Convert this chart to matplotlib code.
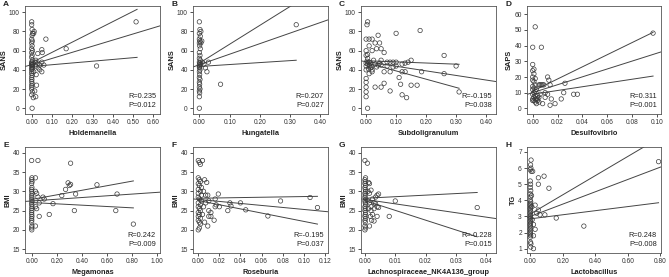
import matplotlib
matplotlib.use("Agg")
import matplotlib.pyplot as plt
import numpy as np

plt.rcParams['font.family'] = ['Liberation Sans', 'DejaVu Sans']

# ---- data ----
labels = ['A', 'B', 'C', 'D', 'E', 'F', 'G', 'H']
x_names = ['Holdemanella', 'Hungatella', 'Subdoligranulum', 'Desulfovibrio',
           'Megamonas', 'Roseburia', 'Lachnospiraceae_NK4A136_group', 'Lactobacillus']
y_names = ['SANS', 'SANS', 'SANS', 'SAPS', 'BMI', 'BMI', 'BMI', 'TG']
r_text = ['R=0.235', 'R=0.207', 'R=-0.195', 'R=0.311',
          'R=0.242', 'R=-0.195', 'R=-0.228', 'R=0.248']
p_text = ['P=0.012', 'P=0.027', 'P=0.038', 'P=0.001',
          'P=0.009', 'P=0.037', 'P=0.015', 'P=0.008']

a_x = [0, 0, 0.002, 0.004, 0.002, 0, 0.003, 0, 0.002, 0, 0.004, 0, 0.002, 0, 0.003, 0, 0.001,
       0.004, 0, 0.002, 0.003, 0, 0.002, 0, 0.003, 0, 0.001, 0, 0.002, 0, 0.001, 0, 0.002, 0,
       0.001, 0, 0.003, 0, 0.002,
       0.01, 0.012, 0.02, 0.018, 0.02, 0.022, 0.024, 0.015, 0.02, 0.03, 0.03, 0.032, 0.04,
       0.05, 0.05, 0.052, 0.05, 0.06, 0.07, 0.04, 0.17, 0.32, 0.515, 0.01, 0.008]
a_y = [90, 87, 82, 78, 76, 72, 70, 68, 65, 62, 60, 58, 55, 53, 50, 48, 47, 46, 45, 44, 43, 46,
       45, 42, 41, 40, 38, 36, 34, 32, 30, 28, 26, 24, 22, 20, 17, 14, 0,
       78, 80, 50, 48, 44, 35, 24, 18, 12, 57, 47, 42, 45, 38, 61, 58, 48, 45, 72, 40, 62, 44,
       90, 38, 11]

b_x = [0, 0.002, 0, 0.003, 0, 0.002, 0, 0.001, 0.003, 0, 0.002, 0, 0.003, 0, 0.001, 0.003,
       0, 0.002, 0, 0.001, 0.002, 0, 0.001, 0, 0.002, 0, 0.001, 0, 0.002, 0, 0.001, 0, 0,
       0.005, 0.005, 0.008, 0.01, 0.015, 0.02, 0.025, 0.03, 0.07, 0.32]
b_y = [90, 82, 78, 75, 72, 70, 68, 65, 62, 58, 55, 52, 50, 48, 47, 46, 45, 44, 43, 42, 40,
       38, 35, 32, 30, 27, 25, 22, 20, 18, 16, 12, 0,
       80, 68, 70, 48, 46, 42, 38, 48, 25, 87]

c_x = [0.005, 0.003, 0, 0.01, 0.02, 0.03, 0.04, 0.045, 0.035, 0.05, 0.06, 0.10, 0.18, 0.26,
       0.30, 0.26, 0.31, 0.15, 0.14, 0.13, 0.12, 0.10, 0.09, 0.08, 0.07, 0.08, 0.06, 0.05,
       0.05, 0.07, 0.12, 0.13, 0.11, 0.115, 0.15, 0.17, 0.185, 0.12, 0.135, 0.08, 0.06, 0.05,
       0.03, 0, 0, 0, 0, 0, 0.005, 0, 0.005, 0.01, 0.01, 0.015, 0.02, 0.02, 0.01, 0.005, 0, 0,
       0, 0.025, 0.03, 0.035, 0.04, 0.02, 0.01, 0, 0.005, 0.045, 0.09, 0.1, 0.003, 0.008,
       0.012, 0.015, 0.018]
c_y = [90, 87, 72, 72, 72, 68, 76, 68, 62, 62, 58, 78, 81, 55, 44, 36, 17, 50, 48, 47, 46,
       48, 48, 48, 44, 38, 38, 45, 50, 48, 38, 38, 32, 25, 24, 24, 38, 14, 11, 18, 26, 22, 22,
       31, 27, 22, 17, 12, 0, 55, 52, 48, 45, 42, 40, 38, 36, 46, 44, 47, 40, 50, 46, 43, 45,
       60, 65, 60, 56, 47, 43, 44, 49, 41, 44, 47, 43]

d_x = [0.002, 0, 0, 0.001, 0, 0.001, 0, 0.002, 0, 0.001, 0.002, 0, 0.001, 0, 0.002, 0.001,
       0, 0.002, 0.001, 0, 0.002, 0.001, 0, 0.002, 0.003,
       0.007, 0.005, 0.006, 0.007, 0.008, 0.009, 0.01, 0.012, 0.013, 0.014, 0.012, 0.014,
       0.015, 0.018, 0.023, 0.025, 0.026, 0.033, 0.036, 0.097, 0.004, 0.005, 0.008, 0.01,
       0.003, 0.004, 0.003, 0.005, 0.006, 0.004]
d_y = [52, 39, 28, 25, 24, 22, 20, 19, 18, 17, 15, 14, 13, 12, 11, 10, 9, 8, 7, 6, 6, 5, 5,
       4, 3,
       39, 15, 15, 15, 15, 15, 10, 20, 18, 15, 9, 2, 6, 3, 6, 10, 16, 9, 9, 48, 6, 4, 3, 7,
       12, 8, 6, 7, 9, 5]

e_x = [0, 0.002, 0, 0.003, 0, 0.002, 0, 0.001, 0.003, 0, 0.002, 0, 0.003, 0, 0.001, 0.003,
       0, 0.002, 0, 0.001, 0.002, 0, 0.001, 0, 0.002, 0, 0.001,
       0.05, 0.03, 0.03, 0.04, 0.05, 0.06, 0.06, 0.03, 0.03, 0.04, 0.09, 0.1, 0.14, 0.17,
       0.24, 0.27, 0.29, 0.3, 0.31, 0.31, 0.34, 0.35, 0.52, 0.67, 0.68, 0.81]
e_y = [38, 33.5, 33, 32.5, 32, 31, 30.5, 30, 29.5, 29, 28.5, 28, 27.5, 27, 26.5, 26, 25.5,
       25, 24.5, 24, 23.5, 23, 22.5, 22, 21, 20.5, 20,
       38, 33.5, 30, 29.5, 28.5, 27, 23.5, 21, 26, 25.5, 28.5, 28, 24, 26.8, 28.9, 30.5, 32.2,
       31.5, 31.8, 37.3, 25, 29.3, 31.7, 25, 29.3, 21.5]

f_x = [0, 0.001, 0.002, 0, 0.001, 0.002, 0, 0.001, 0.003, 0, 0.002, 0, 0.003, 0, 0.001, 0.003,
       0, 0.002, 0, 0.001, 0.002, 0, 0.001, 0, 0.002, 0, 0.001, 0.002, 0.001, 0,
       0.004, 0.006, 0.008, 0.009, 0.007, 0.01, 0.01, 0.012, 0.01, 0.012, 0.009, 0.006, 0.015,
       0.016, 0.016, 0.019, 0.02, 0.017, 0.028, 0.03, 0.031, 0.04, 0.045, 0.066, 0.078, 0.106,
       0.113, 0.004, 0.005, 0.005, 0.007]
f_y = [38, 37.5, 37, 33.5, 33, 32.5, 32, 31.5, 31, 30.5, 30, 29.5, 29, 28.5, 28, 27.5, 27,
       26.5, 26, 25.5, 25, 24.5, 24, 23.5, 23, 22.5, 22, 21.5, 20.5, 20,
       38, 33, 32.3, 29, 29, 27.5, 25, 24.5, 23.5, 23.5, 21, 22, 22.5, 28, 26, 29.3, 26, 26.5,
       25, 27, 26.2, 27, 25.2, 23.6, 27.5, 28.4, 25.8, 24, 26, 30, 27]

g_x = [0, 0.0002, 0, 0.0001, 0, 0.0002, 0, 0.0001, 0.0002, 0, 0.0001, 0, 0.0002, 0, 0.0001,
       0.0002, 0, 0.0001, 0, 0.0002, 0.0001, 0, 0.0002, 0, 0.0001, 0, 0.0002, 0,
       0.0008, 0.0012, 0.0015, 0.001, 0.0015, 0.002, 0.0025, 0.0015, 0.002, 0.002, 0.0018,
       0.0015, 0.0022, 0.0025, 0.003, 0.0035, 0.004, 0.0045, 0.004, 0.0045, 0.003, 0.004,
       0.008, 0.01, 0.037, 0.003, 0.0035, 0.001, 0.0012]
g_y = [38, 33.5, 33, 32.5, 32, 31.5, 31, 30.5, 30, 29.5, 29, 28.5, 28, 27.5, 27, 26.5, 26,
       25.5, 25, 24.5, 24, 23.5, 23, 22.5, 22, 21, 20.5, 20,
       37.3, 32.3, 32, 30, 29.5, 30.3, 28, 27, 26, 25, 23.5, 21, 22.5, 24, 27, 28.5, 29, 29.3,
       26, 25.8, 25.5, 23.5, 23.5, 27.5, 25.8, 22.3, 26.8, 27.5, 25.5]

h_x = [0.005, 0.002, 0.004, 0, 0.006, 0, 0.002, 0, 0.003, 0, 0.002, 0, 0.003, 0.001, 0, 0.002,
       0, 0.001, 0.003, 0, 0.002, 0, 0.001, 0.003, 0, 0.002, 0, 0.001, 0.003, 0, 0.002, 0,
       0.001, 0.003, 0, 0.002, 0.004, 0.003, 0.02,
       0.015, 0.03, 0.04, 0.05, 0.02, 0.03, 0.02, 0.05, 0.05, 0.085, 0.09, 0.115, 0.16, 0.33,
       0.79, 0.06, 0.01, 0.012, 0.008]
h_y = [6.5, 6.2, 6.0, 5.9, 5.8, 5.2, 5.0, 4.8, 4.6, 4.4, 4.2, 4.0, 3.9, 3.8, 3.7, 3.6, 3.5,
       3.4, 3.3, 3.2, 3.1, 3.0, 2.9, 2.8, 2.7, 2.6, 2.5, 2.4, 2.3, 2.2, 2.1, 2.0, 1.9, 1.8,
       1.7, 1.4, 1.3, 1.1, 1.0,
       5.8, 3.7, 3.2, 3.4, 2.5, 2.2, 1.8, 5.4, 5.0, 5.5, 3.1, 4.75, 2.9, 2.4, 6.4, 3.1, 3.6,
       2.8, 4.3]

xs = [a_x, b_x, c_x, d_x, e_x, f_x, g_x, h_x]
ys = [a_y, b_y, c_y, d_y, e_y, f_y, g_y, h_y]

# fit line (intercept, slope) and confidence band ends at x=0 and x=max
fit_b0 = [45.5, 45.3, 48.5, 10.05, 27.5, 27.9, 27.9, 3.0]
fit_b1 = [63.7, 110.0, -47.8, 251.0, 2.23, -26.0, -115.0, 3.82]
band_x1 = [0.52, 0.32, 0.31, 0.097, 0.81, 0.113, 0.037, 0.79]
band_hi = [(47.5, 103), (47.0, 110), (49.5, 45.8), (11.0, 48.5),
           (27.9, 32.7), (28.2, 28.7), (28.2, 29.7), (3.15, 7.85)]
band_lo = [(43.5, 53), (43.5, 50), (47.5, 20.8), (9.0, 20.6),
           (27.1, 25.7), (27.6, 21.5), (27.6, 18.2), (2.85, 3.85)]

x_lims = [(-0.033, 0.633), (-0.021, 0.425), (-0.017, 0.433), (-0.0046, 0.1034),
          (-0.053, 1.022), (-0.005, 0.123), (-0.0013, 0.0432), (-0.02, 0.805)]
y_lims = [(-6, 106.5), (-6, 106.5), (-6, 106.5), (-3.6, 65.3),
          (14, 41.5), (14, 41.5), (14, 41.5), (0.73, 7.31)]
x_ticks = [np.arange(0, 0.61, 0.1), np.arange(0, 0.41, 0.1), np.arange(0, 0.41, 0.1),
           np.arange(0, 0.101, 0.02), np.arange(0, 1.01, 0.2), np.arange(0, 0.121, 0.02),
           np.arange(0, 0.041, 0.01), np.arange(0, 0.81, 0.2)]
y_ticks = [range(0, 101, 20)] * 3 + [range(0, 61, 10)] + [range(15, 41, 5)] * 3 + [range(1, 8)]

W, H = 669, 277
fig = plt.figure(figsize=(W / 100, H / 100), dpi=100)
lefts = [25, 193, 361, 527]
tops = [6, 147]
bottoms = [114, 253]

ink = '#333333'
for i in range(8):
    r, c = divmod(i, 4)
    w = 134 if c == 3 else 135
    ax = fig.add_axes([lefts[c] / W, 1 - bottoms[r] / H, w / W, (bottoms[r] - tops[r]) / H])
    ax.scatter(xs[i], ys[i], s=10, facecolors='none', edgecolors='#3a3a3a', linewidths=0.5,
               zorder=3)
    xl = np.array(x_lims[i])
    ax.plot(xl, fit_b0[i] + fit_b1[i] * xl, color='#444444', lw=0.7, zorder=2)
    ax.plot([0, band_x1[i]], band_hi[i], color='#444444', lw=0.7, zorder=2)
    ax.plot([0, band_x1[i]], band_lo[i], color='#444444', lw=0.7, zorder=2)
    ax.set_xlim(*x_lims[i])
    ax.set_ylim(*y_lims[i])
    ax.set_xticks(x_ticks[i])
    ax.set_xticklabels(['%.2f' % v for v in x_ticks[i]])
    ax.set_yticks(list(y_ticks[i]))
    ax.tick_params(length=2.5, width=0.6, pad=1.2, labelsize=4.8, colors=ink)
    for s in ax.spines.values():
        s.set_linewidth(0.6)
        s.set_color('#555555')
    ax.set_xlabel(x_names[i], fontsize=5.3, fontweight='bold', labelpad=3, color='#222222')
    ax.set_ylabel(y_names[i], fontsize=5.3, fontweight='bold', labelpad=1, color='#222222')
    ax.text(0.97, 0.05, r_text[i] + '\n' + p_text[i], transform=ax.transAxes,
            ha='right', va='bottom', fontsize=5.3, color='#222222', linespacing=1.3)
    fig.text((lefts[c] - 22) / W, 1 - max(0.5, tops[r] - 5) / H, labels[i], fontsize=6,
             fontweight='bold', ha='left', va='top', color='#222222')

fig.savefig('out.png', dpi=100)
